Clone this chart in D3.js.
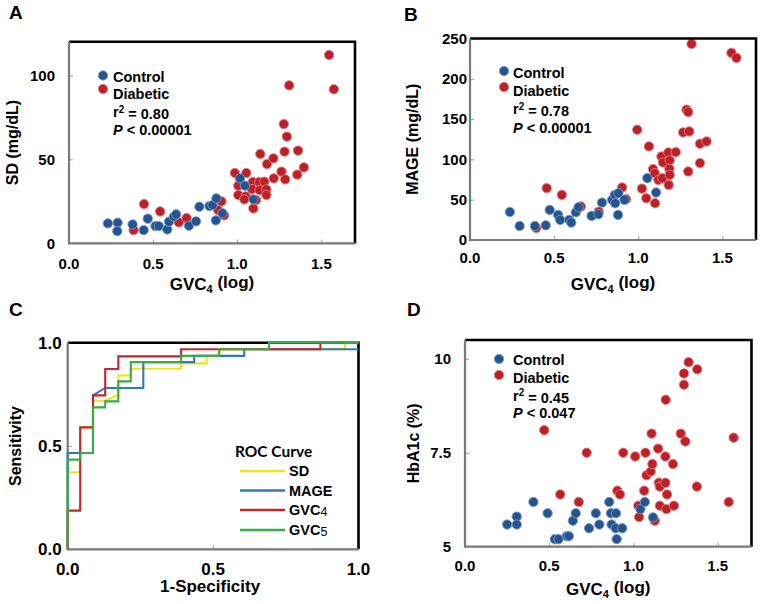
<!DOCTYPE html>
<html><head><meta charset="utf-8">
<script src="https://cdn.jsdelivr.net/npm/d3@7"></script>
<style>body{margin:0;background:#fff}svg{display:block}</style>
</head><body>
<svg id="c" width="760" height="604"></svg>
<script>
// ---------- DATA ----------
const xTicksGVC = [0, 0.5, 1.0, 1.5];
// Panel A: SD vs GVC4
const aControlX = [0.231,0.289,0.287,0.378,0.444,0.468,0.514,0.534,0.584,0.594,0.623,0.637,0.713,0.755,0.775,0.835,0.853,0.876,0.873,0.912,1.016,1.046,1.096];
const aControlY = [11.9,12.3,7.3,11.3,7.9,14.7,10.3,10.3,8.3,12.9,15.9,17.3,10.5,13.1,21.8,22.2,22.8,26.8,13.7,17.9,38.7,34.3,26.2];
const aDiabX = [0.384,0.446,0.542,0.653,0.699,0.906,0.886,0.922,0.986,1.006,1.006,1.054,1.050,1.042,1.092,1.088,1.096,1.112,1.131,1.133,1.161,1.137,1.177,1.215,1.173,1.173,1.217,1.263,1.285,1.281,1.277,1.295,1.309,1.357,1.361,1.396,1.546,1.574];
const aDiabY = [7.9,23.4,19.0,12.5,15.1,25.0,19.8,16.7,41.9,34.3,28.8,41.9,28.0,26.2,36.5,32.3,20.8,25.8,36.5,31.7,36.7,53.2,47.2,50.6,32.1,28.8,38.7,42.7,38.1,54.6,71.0,63.5,94.0,40.9,55.2,45.2,112.1,91.7];
const aYTicks = [0, 50, 100];
// Panel B: MAGE vs GVC4
const bControlX = [0.237,0.295,0.386,0.450,0.474,0.524,0.536,0.590,0.602,0.629,0.645,0.723,0.763,0.785,0.845,0.861,0.882,0.863,0.880,0.918,1.054,1.106];
const bControlY = [34.8,17.4,17.4,18.2,37.3,31.1,24.9,24.9,21.6,34.4,40.6,29.9,31.9,46.4,49.8,56.0,58.0,45.6,31.1,49.8,76.7,58.9];
const bDiabX = [0.394,0.456,0.546,0.659,0.765,0.904,0.928,0.994,1.022,1.064,1.048,1.088,1.098,1.100,1.120,1.138,1.147,1.143,1.179,1.187,1.185,1.187,1.181,1.223,1.267,1.287,1.297,1.303,1.297,1.317,1.367,1.367,1.406,1.554,1.584];
const bDiabY = [14.9,64.3,56.0,41.5,35.2,65.1,50.6,136.8,63.8,116.1,51.8,87.9,82.9,45.6,74.6,103.6,96.2,76.7,108.6,98.7,88.3,80.8,68.4,109.0,133.5,161.7,158.8,134.7,85.0,243.4,95.4,119.4,122.3,232.2,226.0];
const bYTicks = [0, 50, 100, 150, 200, 250];
// Panel D: HbA1c vs GVC4
const dControlX = [0.250,0.307,0.307,0.406,0.490,0.533,0.555,0.604,0.616,0.640,0.657,0.736,0.776,0.797,0.856,0.866,0.870,0.894,0.896,0.900,0.933,1.041,1.067,1.116];
const dControlY = [5.59,5.80,5.59,6.19,5.89,5.20,5.20,5.28,5.28,5.69,5.89,5.49,5.89,5.59,6.19,5.89,5.59,5.49,5.89,5.20,5.49,6.00,6.19,5.78];
const dDiabX = [0.470,0.565,0.675,0.722,0.904,0.919,0.939,1.010,1.028,1.033,1.071,1.063,1.077,1.102,1.112,1.107,1.126,1.146,1.150,1.156,1.156,1.189,1.191,1.189,1.199,1.195,1.234,1.240,1.280,1.299,1.299,1.307,1.327,1.376,1.378,1.565,1.594];
const dDiabY = [8.10,6.39,6.19,7.50,6.49,6.39,7.50,7.40,6.09,5.79,7.50,6.49,6.90,7.00,7.20,8.01,5.69,7.61,6.70,6.60,6.09,7.40,8.91,6.70,6.39,6.00,7.20,6.09,8.01,9.61,9.31,7.80,9.91,6.60,9.72,6.19,7.90];
const dYTicks = [5, 7.5, 10];
// Panel C: ROC curves (1-specificity, sensitivity) step vertices
const rocSD_X   = [0,0,0.043,0.043,0.087,0.087,0.129,0.174,0.174,0.217,0.217,0.39,0.39,0.478,0.478,0.521,0.521,0.954,0.954,1];
const rocSD_Y   = [0,0.373,0.373,0.59,0.59,0.719,0.719,0.748,0.842,0.842,0.874,0.874,0.90,0.90,0.936,0.936,0.968,0.968,1,1];
const rocMAGE_X = [0,0,0.087,0.087,0.129,0.26,0.26,0.435,0.435,0.607,0.607,1];
const rocMAGE_Y = [0,0.466,0.466,0.745,0.781,0.781,0.906,0.906,0.936,0.936,0.968,0.968];
const rocGVC4_X = [0,0,0.043,0.043,0.087,0.087,0.129,0.129,0.174,0.174,0.39,0.39,0.869,0.869,1];
const rocGVC4_Y = [0,0.187,0.187,0.59,0.59,0.745,0.745,0.873,0.873,0.934,0.934,0.968,0.968,1,1];
const rocGVC5_X = [0,0,0.043,0.043,0.087,0.087,0.129,0.129,0.174,0.174,0.217,0.217,0.39,0.39,0.521,0.521,0.692,0.692,1];
const rocGVC5_Y = [0,0.434,0.434,0.466,0.466,0.687,0.687,0.716,0.716,0.813,0.813,0.906,0.906,0.936,0.936,0.968,0.968,1,1];
const rocTicks = [0, 0.5, 1.0];
const rocNames = ["SD", "MAGE", "GVC4", "GVC5"];

// ---------- STYLE ----------
const BLUE = "#24558f", RED = "#bd2127";
const ROC_COL = {SD:"#f3e21d", MAGE:"#2e79bf", GVC4:"#c1272f", GVC5:"#3bab47"};
const FONT = "'Liberation Sans', Arial, sans-serif";
const svg = d3.select("#c").style("font-family", FONT);

function frame(g, x0, x1, y0, y1) {
  g.append("path").attr("d", `M${x0},${y0}H${x1}V${y1}`)
    .attr("fill","none").attr("stroke","#000").attr("stroke-width",2.6);
  g.append("path").attr("d", `M${x0},${y0}V${y1}H${x1}`)
    .attr("fill","none").attr("stroke","#7a7a7a").attr("stroke-width",2.2);
}

function scatter(o) {
  const g = svg.append("g");
  const x = d3.scaleLinear().domain([0, 1.7]).range([o.x0, o.x1]);
  const y = d3.scaleLinear().domain(o.yDom).range([o.y1, o.y0]);
  g.append("g").attr("transform", `translate(0,${o.y1})`)
    .call(d3.axisBottom(x).tickValues(xTicksGVC.filter(v=>v>0)).tickSize(-4).tickFormat(""))
    .call(s => { s.select(".domain").remove(); s.selectAll("line").attr("stroke","#9a9a9a"); });
  g.append("g").attr("transform", `translate(${o.x0},0)`)
    .call(d3.axisLeft(y).tickValues(o.yTicks.slice(1)).tickSize(-4).tickFormat(""))
    .call(s => { s.select(".domain").remove(); s.selectAll("line").attr("stroke","#9a9a9a"); });
  g.selectAll(".xl").data(xTicksGVC).enter().append("text")
    .attr("x", d => x(d)).attr("y", o.xLabY).attr("dy","0.35em")
    .attr("text-anchor","middle").attr("font-size",15).attr("font-weight","bold")
    .text(d => d3.format(".1f")(d));
  g.selectAll(".yl").data(o.yTicks).enter().append("text")
    .attr("x", o.x0 - o.yGap).attr("y", d => y(d)).attr("dy","0.35em")
    .attr("text-anchor","end").attr("font-size",15).attr("font-weight","bold")
    .text(d => o.yFmt(d));
  const dot = (xs, ys, col, stroke) => {
    g.append("g").selectAll("circle").data(xs.map((v,i)=>[v, ys[i]])).enter().append("circle")
      .attr("cx", d => x(d[0])).attr("cy", d => y(d[1])).attr("r", 4.7)
      .attr("fill", col).attr("stroke", stroke).attr("stroke-width", 0.9);
  };
  dot(o.dX, o.dY, RED, "#e07c80");
  dot(o.cX, o.cY, BLUE, "#7d9cc8");
  frame(g, o.x0, o.x1, o.y0, o.y1);
  g.append("text").attr("transform", `translate(${o.yTitleX},${(o.y0+o.y1)/2}) rotate(-90)`)
    .attr("dy","0.35em").attr("text-anchor","middle").attr("font-size",16).attr("font-weight","bold")
    .text(o.yTitle);
  const xt = g.append("text").attr("x", (o.x0+o.x1)/2).attr("y", o.xTitleY).attr("dy","0.35em")
    .attr("text-anchor","middle").attr("font-size",17).attr("font-weight","bold");
  xt.append("tspan").text("GVC");
  xt.append("tspan").attr("font-size",11).attr("dy","0.3em").text("4");
  xt.append("tspan").attr("dy","-0.3em").text(" (log)");
  const L = o.leg;
  g.append("circle").attr("cx", L.dx).attr("cy", L.cy).attr("r",4.7).attr("fill",BLUE).attr("stroke","#7d9cc8").attr("stroke-width",0.9);
  g.append("circle").attr("cx", L.dx).attr("cy", L.ry).attr("r",4.7).attr("fill",RED).attr("stroke","#e07c80").attr("stroke-width",0.9);
  const lt = (yy) => g.append("text").attr("x", L.tx).attr("y", yy).attr("dy","0.35em")
    .attr("font-size",14.5).attr("font-weight","bold");
  lt(L.lines[0]).text("Control");
  lt(L.lines[1]).text("Diabetic");
  const r2 = lt(L.lines[2]);
  r2.append("tspan").text("r");
  r2.append("tspan").attr("font-size",10).attr("dy","-0.45em").text("2");
  r2.append("tspan").attr("dy","0.45em").text(" = " + o.r2);
  const pp = lt(L.lines[3]);
  pp.append("tspan").attr("font-style","italic").text("P");
  pp.append("tspan").text(" < " + o.p);
  svg.append("text").attr("x", o.letX).attr("y", o.letY).attr("font-size",19).attr("font-weight","bold").text(o.letter);
}

scatter({x0:69, x1:355, y0:41.7, y1:243.4, yDom:[0,120], yTicks:aYTicks, yFmt:d=>d, yGap:14,
  xLabY:263.5, yTitleX:12, yTitle:"SD (mg/dL)", xTitleY:284,
  cX:aControlX, cY:aControlY, dX:aDiabX, dY:aDiabY,
  leg:{dx:103, cy:75.5, ry:89, tx:113, lines:[76.5,94,112,129.5]}, r2:"0.80", p:"0.00001",
  letter:"A", letX:9, letY:19});
scatter({x0:470, x1:756, y0:38.5, y1:240, yDom:[0,250], yTicks:bYTicks, yFmt:d=>d, yGap:3,
  xLabY:258, yTitleX:412, yTitle:"MAGE (mg/dL)", xTitleY:284,
  cX:bControlX, cY:bControlY, dX:bDiabX, dY:bDiabY,
  leg:{dx:504, cy:71, ry:87, tx:513, lines:[73,91,109,127.5]}, r2:"0.78", p:"0.00001",
  letter:"B", letX:404, letY:21});
scatter({x0:465, x1:751.5, y0:340, y1:546.7, yDom:[5,10.5], yTicks:dYTicks, yFmt:d=>d, yGap:14,
  xLabY:566, yTitleX:413, yTitle:"HbA1c (%)", xTitleY:589,
  cX:dControlX, cY:dControlY, dX:dDiabX, dY:dDiabY,
  leg:{dx:499, cy:359, ry:375, tx:513, lines:[359.5,377.5,395.5,413]}, r2:"0.45", p:"0.047",
  letter:"D", letX:407, letY:316});

// ---------- Panel C: ROC ----------
(function(){
  const x0=67.7, x1=358.5, y0=342.7, y1=549.3;
  const g = svg.append("g");
  const x = d3.scaleLinear().domain([0,1]).range([x0,x1]);
  const y = d3.scaleLinear().domain([0,1]).range([y1,y0]);
  g.append("g").attr("transform", `translate(0,${y1})`)
    .call(d3.axisBottom(x).tickValues([0.5]).tickSize(-4).tickFormat(""))
    .call(s => { s.select(".domain").remove(); s.selectAll("line").attr("stroke","#9a9a9a"); });
  g.append("g").attr("transform", `translate(${x0},0)`)
    .call(d3.axisLeft(y).tickValues([0.5]).tickSize(-4).tickFormat(""))
    .call(s => { s.select(".domain").remove(); s.selectAll("line").attr("stroke","#9a9a9a"); });
  const curves = {SD:[rocSD_X,rocSD_Y], MAGE:[rocMAGE_X,rocMAGE_Y], GVC4:[rocGVC4_X,rocGVC4_Y], GVC5:[rocGVC5_X,rocGVC5_Y]};
  const line = d3.line().x(d=>x(d[0])).y(d=>y(d[1]));
  frame(g, x0, x1, y0, y1);
  rocNames.forEach(n => {
    const [xs, ys] = curves[n];
    g.append("path").datum(xs.map((v,i)=>[v, ys[i]])).attr("d", line)
      .attr("fill","none").attr("stroke", ROC_COL[n]).attr("stroke-width",2.1);
  });
  g.selectAll(".xl").data(rocTicks).enter().append("text")
    .attr("x", d => x(d)).attr("y", 569).attr("dy","0.35em").attr("text-anchor","middle")
    .attr("font-size",17).attr("font-weight","bold").text(d=>d3.format(".1f")(d));
  g.selectAll(".yl").data(rocTicks).enter().append("text")
    .attr("x", x0-6).attr("y", d=>y(d)).attr("dy","0.35em").attr("text-anchor","end")
    .attr("font-size",17).attr("font-weight","bold").text(d=>d3.format(".1f")(d));
  g.append("text").attr("transform", `translate(15,${(y0+y1)/2}) rotate(-90)`).attr("dy","0.35em")
    .attr("text-anchor","middle").attr("font-size",16).attr("font-weight","bold").text("Sensitivity");
  g.append("text").attr("x", (x0+x1)/2 - 3).attr("y", 586.5).attr("dy","0.35em")
    .attr("text-anchor","middle").attr("font-size",17).attr("font-weight","bold").text("1-Specificity");
  g.append("text").attr("x", 235).attr("y", 451.5).attr("dy","0.35em")
    .attr("font-family","Lato, 'Open Sans', sans-serif").attr("font-weight","bold").attr("font-size",15.5).text("ROC Curve");
  const ly = [471, 490.5, 510, 530];
  rocNames.forEach((n,i) => {
    g.append("line").attr("x1",240).attr("x2",285).attr("y1",ly[i]).attr("y2",ly[i])
      .attr("stroke",ROC_COL[n]).attr("stroke-width",2.7);
    const t = g.append("text").attr("x",289).attr("y",ly[i]).attr("dy","0.35em")
      .attr("font-size",14.5).attr("font-weight","bold");
    if (n.startsWith("GVC")) {
      t.append("tspan").text("GVC");
      t.append("tspan").attr("font-weight","normal").attr("font-size",12.5).attr("dy","0.1em").text(n.slice(3));
    } else t.text(n);
  });
  svg.append("text").attr("x", 9).attr("y", 316).attr("font-size",19).attr("font-weight","bold").text("C");
})();
</script>
</body></html>
